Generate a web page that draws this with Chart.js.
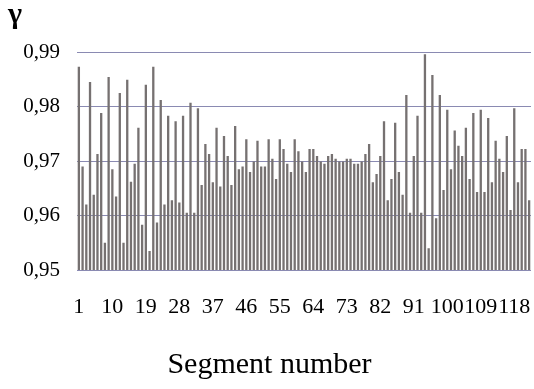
<!DOCTYPE html>
<html>
<head>
<meta charset="utf-8">
<script src="https://cdn.jsdelivr.net/npm/chart.js@4.4.1/dist/chart.umd.min.js"></script>
<style>
  html, body { margin: 0; padding: 0; background: #fff; }
  #wrap { position: relative; width: 534px; height: 389px; }
</style>
</head>
<body>
<div id="wrap"><canvas id="gamma-chart"></canvas></div>
<script>
// segment numbers 1..122
const segments = [];
for (let i = 1; i <= 122; i++) segments.push(String(i));

// gamma per segment
const gammaValues = [
  0.9873, 0.9690, 0.9620, 0.9845, 0.9638, 0.9713, 0.9788, 0.9550, 0.9854, 0.9685,
  0.9635, 0.9825, 0.9550, 0.9849, 0.9662, 0.9695, 0.9761, 0.9583, 0.9840, 0.9535,
  0.9873, 0.9587, 0.9812, 0.9620, 0.9783, 0.9628, 0.9773, 0.9624, 0.9783, 0.9605,
  0.9807, 0.9605, 0.9797, 0.9656, 0.9731, 0.9713, 0.9661, 0.9761, 0.9653, 0.9746,
  0.9709, 0.9656, 0.9764, 0.9685, 0.9690, 0.9740, 0.9680, 0.9699, 0.9737, 0.9690,
  0.9690, 0.9740, 0.9704, 0.9667, 0.9740, 0.9722, 0.9695, 0.9680, 0.9740, 0.9718,
  0.9699, 0.9680, 0.9722, 0.9722, 0.9709, 0.9699, 0.9695, 0.9709, 0.9713, 0.9704,
  0.9699, 0.9699, 0.9704, 0.9704, 0.9695, 0.9695, 0.9699, 0.9713, 0.9731, 0.9661,
  0.9676, 0.9709, 0.9773, 0.9628, 0.9667, 0.9770, 0.9680, 0.9638, 0.9821, 0.9605,
  0.9709, 0.9783, 0.9605, 0.9896, 0.9540, 0.9858, 0.9595, 0.9821, 0.9647, 0.9794,
  0.9685, 0.9756, 0.9728, 0.9709, 0.9761, 0.9667, 0.9788, 0.9643, 0.9794, 0.9643,
  0.9779, 0.9661, 0.9737, 0.9704, 0.9680, 0.9746, 0.9610, 0.9797, 0.9661, 0.9722,
  0.9722, 0.9628
];

// labels shown on the x axis
const shownSegments = ['1', '10', '19', '28', '37', '46', '55', '64', '73', '82', '91', '100', '109', '118'];
const yTicks = [0.95, 0.96, 0.97, 0.98, 0.99];

const serif = "'Liberation Serif', 'Times New Roman', serif";
const gridColor = '#8a8ab2';

const ctx = document.getElementById('gamma-chart');
new Chart(ctx, {
  type: 'bar',
  data: {
    labels: segments,
    datasets: [{
      label: 'γ',
      data: gammaValues,
      backgroundColor: '#767171',
      borderWidth: 0,
      barPercentage: 0.62,
      categoryPercentage: 1.0,
    }],
  },
  options: {
    responsive: true,
    maintainAspectRatio: false,
    animation: false,
    layout: { padding: { left: 8, right: 3, top: 0, bottom: 0 } },
    plugins: {
      legend: { display: false },
      tooltip: { enabled: false },
      title: {
        display: true,
        text: 'γ',
        align: 'start',
        color: '#000',
        font: { family: serif, size: 30, weight: 'bold', lineHeight: 0.8 },
        padding: { top: 3, bottom: 25 },
      },
      subtitle: {
        display: true,
        position: 'bottom',
        text: 'Segment number',
        color: '#000',
        font: { family: serif, size: 30, lineHeight: 1.2 },
        padding: { top: 0, bottom: 6 },
      },
    },
    scales: {
      x: {
        grid: { display: false, drawTicks: false },
        border: { display: false },
        ticks: {
          autoSkip: false,
          maxRotation: 0,
          minRotation: 0,
          padding: 24,
          color: '#000',
          font: { family: serif, size: 22 },
          callback: function (v) {
            const lab = this.getLabelForValue(v);
            return shownSegments.includes(lab) ? lab : '';
          },
        },
        afterFit: (scale) => {
          scale.height = 77;
          scale.paddingLeft = 0;
          scale.paddingRight = 0;
        },
      },
      y: {
        min: 0.95,
        max: 0.99,
        afterBuildTicks: (scale) => { scale.ticks = yTicks.map(v => ({ value: v })); },
        grid: { color: gridColor, lineWidth: 1, drawTicks: false },
        border: { display: false },
        ticks: {
          padding: 17,
          color: '#000',
          font: { family: serif, size: 21 },
          callback: (v) => v.toFixed(2).replace('.', ','),
        },
        afterFit: (scale) => {
          scale.width = 69;
          scale.paddingTop = 0;
          scale.paddingBottom = 0;
        },
      },
    },
  },
});
</script>
</body>
</html>
